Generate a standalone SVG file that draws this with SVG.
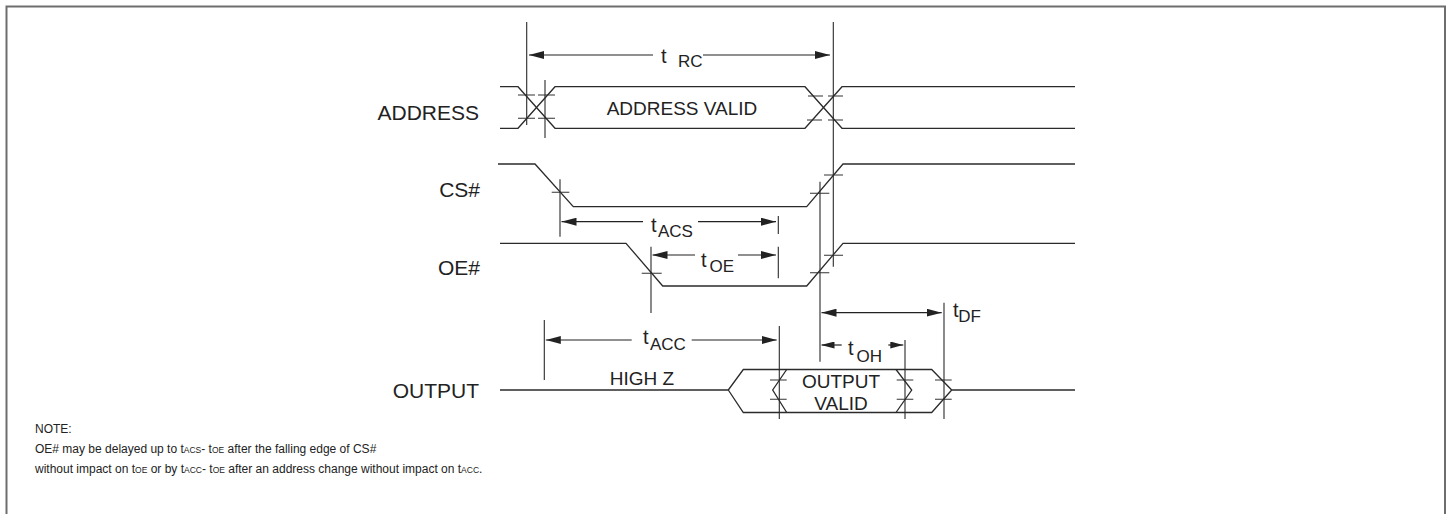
<svg xmlns="http://www.w3.org/2000/svg" width="1449" height="514" viewBox="0 0 1449 514">
<style>
.w{fill:none;stroke:#2b2b2b;stroke-width:1.3}
.g{fill:none;stroke:#2b2b2b;stroke-width:1.1}
.tk{fill:none;stroke:#333;stroke-width:1.1}
.lbl{font-family:"Liberation Sans",Arial,sans-serif;font-size:21px;fill:#222}
.in{font-family:"Liberation Sans",Arial,sans-serif;font-size:19px;fill:#222}
.t{font-family:"Liberation Sans",Arial,sans-serif;font-size:20px;fill:#222}
.s{font-family:"Liberation Sans",Arial,sans-serif;font-size:17px;fill:#222}
.n{font-family:"Liberation Sans",Arial,sans-serif;font-size:12px;fill:#222}
.sc{font-size:8.5px}
.a{fill:none;stroke:#222;stroke-width:1.2;marker-end:url(#ah)}
.a2{fill:none;stroke:#222;stroke-width:1.2;marker-end:url(#ah2)}
</style>
<defs>
<marker id="ah" viewBox="0 0 15 8" refX="15" refY="4" markerWidth="15" markerHeight="8" markerUnits="userSpaceOnUse" orient="auto"><path d="M0,0 L15,4 L0,8 z" fill="#222"/></marker>
<marker id="ah2" viewBox="0 0 13 7" refX="13" refY="3.5" markerWidth="13" markerHeight="7" markerUnits="userSpaceOnUse" orient="auto"><path d="M0,0 L13,3.5 L0,7 z" fill="#222"/></marker>
</defs>
<rect width="1449" height="514" fill="#fff"/>
<path d="M6.5,520 V6.5 H1445 V520" fill="none" stroke="#6e6e6e" stroke-width="2"/>

<g id="signal-labels">
<text class="lbl" x="479" y="120" text-anchor="end">ADDRESS</text>
<text class="lbl" x="480" y="197" text-anchor="end">CS#</text>
<text class="lbl" x="480" y="275" text-anchor="end">OE#</text>
<text class="lbl" x="479" y="398" text-anchor="end">OUTPUT</text>
</g>

<g id="address">
<path class="w" d="M500,86.7 H518 L555,128.3 H805 L842,86.7 H1075"/>
<path class="w" d="M500,128.3 H518 L555,86.7 H805 L842,128.3 H1075"/>
<text class="in" x="682" y="115" text-anchor="middle" font-size="20">ADDRESS VALID</text>
<path class="tk" d="M518,95 H535 M518,118.3 H535 M538,95 H555 M538,118.3 H555"/>
<path class="tk" d="M808,96 H823 M807,120 H822 M828,96 H843 M828,120 H843"/>
</g>

<g id="cs">
<path class="w" d="M498,164 H535 L573.3,206.7 H806.7 L843,164 H1075"/>
<path class="tk" d="M551.7,192.3 H569.3 M810,193.3 H829.3 M824,175 H843"/>
</g>

<g id="oe">
<path class="w" d="M500,243.3 H626 L662.7,286 H806.7 L843,243.3 H1075"/>
<path class="tk" d="M641.7,273.3 H661.7 M810,272.7 H829.3 M824,255.3 H843"/>
</g>

<g id="output">
<path class="w" d="M500,390 H728.3 L743.3,369.5 H931.7 L951.7,390 H1075 M728.3,390 L743.3,412.5 H931.7 L951.7,390"/>
<path class="w" d="M786.7,369.5 L772.7,390 L786.7,412.5 M896,369.5 L911.7,390 L896,412.5"/>
<path class="tk" d="M770,380 H786.7 M770,399.3 H786.7 M896.7,380 H913.3 M896.7,399.3 H913.3 M935,380 H951.7 M935,399.3 H951.7"/>
<text class="in" x="642" y="385" text-anchor="middle">HIGH Z</text>
<text class="in" x="841" y="388" text-anchor="middle">OUTPUT</text>
<text class="in" x="841" y="410" text-anchor="middle">VALID</text>
</g>

<g id="connectors">
<path class="g" d="M526.7,22 V125 M545,80 V138 M833.3,22 V266.7 M560,179.3 V236.7 M778.3,216 V234 M651,246.7 V313 M778.3,246.7 V278.3 M820,181.7 V361.7 M544.3,320 V380 M779.3,326 V419 M905,340 V419 M944,302.7 V419"/>
<line class="a" x1="653" y1="55" x2="529" y2="55"/>
<line class="a" x1="703" y1="55" x2="830" y2="55"/>
<line class="a" x1="643" y1="221.7" x2="561.5" y2="221.7"/>
<line class="a" x1="698" y1="221.7" x2="776" y2="221.7"/>
<line class="a" x1="695" y1="255" x2="652.5" y2="255"/>
<line class="a" x1="738" y1="255" x2="776" y2="255"/>
<line class="a" x1="631.7" y1="340" x2="545.8" y2="340"/>
<line class="a" x1="691.7" y1="340" x2="776.7" y2="340"/>
<line class="a2" x1="841.7" y1="345" x2="821.5" y2="345"/>
<line class="a2" x1="888.3" y1="345" x2="903.3" y2="345"/>
<line class="a" x1="880" y1="312.7" x2="821.5" y2="312.7"/>
<line class="a" x1="880" y1="312.7" x2="941.7" y2="312.7"/>
</g>

<g id="timing-labels">
<text class="t" x="661" y="63.3">t</text><text class="s" x="678" y="67.3">RC</text>
<text class="t" x="651" y="231.7">t</text><text class="s" x="658" y="236.7">ACS</text>
<text class="t" x="701" y="266.7">t</text><text class="s" x="709.5" y="271.7">OE</text>
<text class="t" x="643" y="344.3">t</text><text class="s" x="650" y="350">ACC</text>
<text class="t" x="848" y="355">t</text><text class="s" x="856.5" y="361.7">OH</text>
<text class="t" x="953" y="316.7">t</text><text class="s" x="958.3" y="321.7">DF</text>
</g>

<g id="note">
<text class="n" x="35" y="433">NOTE:</text>
<text class="n" x="35" y="453">OE# may be delayed up to t<tspan class="sc">ACS</tspan>- t<tspan class="sc">OE</tspan> after the falling edge of CS#</text>
<text class="n" x="35" y="473">without impact on t<tspan class="sc">OE</tspan> or by t<tspan class="sc">ACC</tspan>- t<tspan class="sc">OE</tspan> after an address change without impact on t<tspan class="sc">ACC</tspan>.</text>
</g>
</svg>
